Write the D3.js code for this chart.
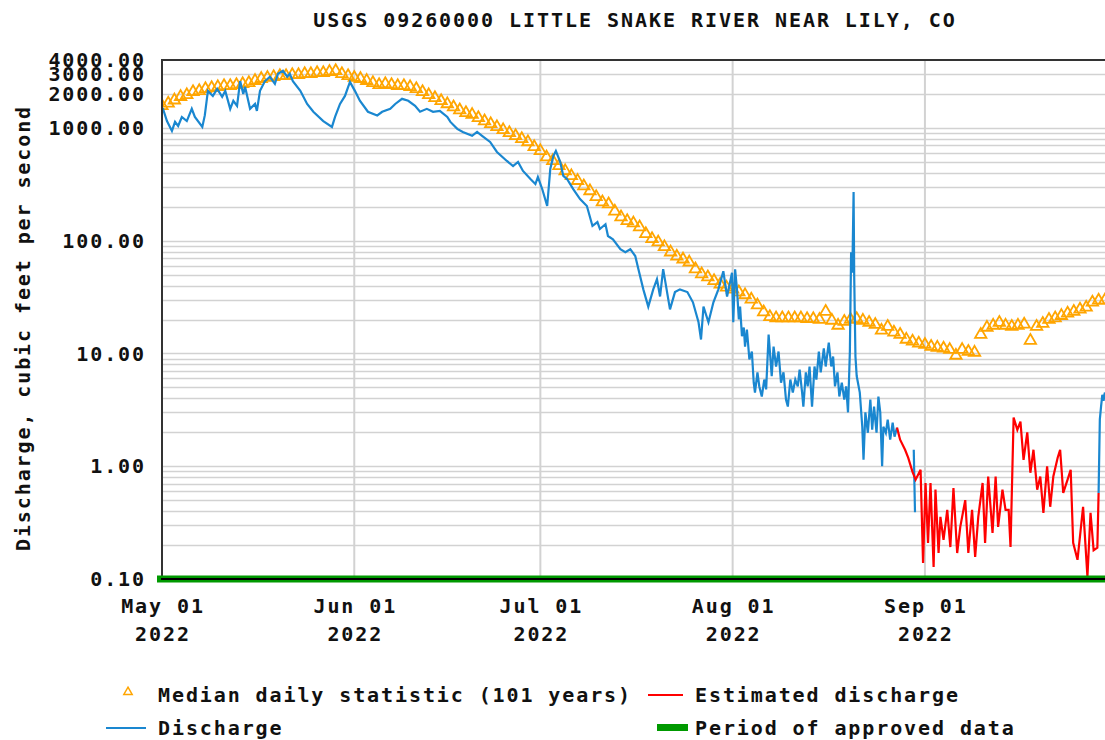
<!DOCTYPE html>
<html>
<head>
<meta charset="utf-8">
<script src="https://cdn.jsdelivr.net/npm/d3@7/dist/d3.min.js"></script>
<style>
  body { margin: 0; background: #fff; }
  svg text {
    font-family: "DejaVu Sans Mono", "Liberation Mono", monospace;
    font-weight: bold;
    font-size: 20px;
    letter-spacing: 1.9px;
    fill: #111;
  }
  svg text.title { letter-spacing: 1.95px; }
</style>
</head>
<body>
<svg id="chart"></svg>
<script>
// start of the record, all times below are days after this
var startDate = Date.UTC(2022, 4, 1);
var endDate = Date.UTC(2022, 9, 1);

// median daily statistic, one value per day from May 01
var medianQ = [
  1570, 1650, 1760, 1890, 1960, 2090, 2130, 2220, 2270, 2310,
  2360, 2360, 2410, 2460, 2510, 2620, 2730, 2790, 2840, 2900,
  2900, 2960, 2960, 3020, 3020, 3080, 3080, 3150, 3210, 3020,
  2900, 2790, 2730, 2620, 2510, 2410, 2460, 2410, 2360, 2360,
  2310, 2220, 2090, 1960, 1850, 1740, 1630, 1530, 1440, 1360,
  1310, 1230, 1150, 1085, 1020, 960, 905, 850, 800, 750,
  680, 625, 550, 510, 460, 415, 375, 340, 305, 276,
  245, 220, 211, 182, 162, 150, 143, 132, 115, 104,
  97, 88, 79, 72.5, 68.5, 64.4, 56, 50.5, 47.5, 44,
  41, 38.6, 37, 35, 33, 30.2, 26.8, 23.3, 21.1, 20.6,
  20.6, 20.6, 20.6, 20.6, 20.3, 20.3, 20, 23.5, 19.6, 17.7,
  19.2, 20, 20.3, 19.6, 18.8, 18, 16, 17.3, 15.4, 14.7,
  13.3, 12.8, 12.3, 12, 11.5, 11.3, 11.1, 10.8, 9.6, 10.8,
  10.4, 10.2, 14.7, 17, 17.7, 18.8, 17.7, 17.3, 17.7, 18.1,
  13, 17.3, 18.4, 20, 20.6, 21.6, 22.7, 23.5, 24.6, 25.6,
  28.4, 29.6, 29.6
];

// discharge (provisional)
var dischargeT = [
  0, 0.16, 0.8, 1.6, 2.1, 2.6, 3.2, 4.0, 4.8, 5.3, 6.5, 6.9, 7.4, 8.2, 8.9, 9.7,
  10.2, 11.0, 11.5, 12.1, 12.6, 13.1, 13.4, 14.2, 15.0, 15.3, 15.8, 16.6, 17.4, 18.2,
  18.7, 19.5, 20.2, 20.6, 21.1, 22.3, 23.4, 24.4, 26.0, 27.4, 27.9, 28.7, 29.5, 30.3,
  31.1, 31.9, 33.2, 34.7, 35.5, 36.8, 37.6, 38.7, 39.7, 40.8, 41.6, 42.7, 43.7, 44.8,
  46.0, 46.5, 47.6, 48.5, 50.0, 50.8, 51.6, 52.9, 54.0, 55.6, 56.6, 57.4, 58.2, 59.4,
  60.2, 60.6, 61.3, 62.1, 62.6, 63.1, 63.5, 64.2, 64.7, 65.3, 66.3, 67.4, 68.5, 69.4,
  70.2, 70.6, 71.5, 71.9, 72.7, 73.9, 74.7, 75.5, 76.3, 76.8, 77.6, 78.4, 79.2, 79.8,
  80.3, 80.8, 81.9, 82.7, 83.5, 84.7, 85.6, 86.5, 86.9, 87.3, 88.1, 88.9, 89.7, 90.5,
  91.1, 91.9, 92.1, 92.4,
  92.7, 93.0, 93.2, 93.5, 93.8, 94.0, 94.3, 94.7, 95.1, 95.4,
  95.6, 96.0, 96.3, 96.7, 97.1, 97.4, 97.8, 98.1, 98.3, 98.6,
  99.0, 99.4, 99.8, 100.2, 100.6, 100.9, 101.3, 101.7, 102.1, 102.5,
  102.8, 103.2, 103.4, 103.8, 104.1, 104.4, 104.8, 105.2, 105.5, 105.9,
  106.2, 106.7, 107.0, 107.5, 107.9, 108.2, 108.5, 108.9, 109.2, 109.6,
  110.0, 110.3, 110.6, 110.9, 111.1, 111.3, 111.5, 111.6, 111.8, 112.0,
  112.5, 112.9, 113.1, 113.4, 113.8, 114.2, 114.5, 114.8, 115.2, 115.5,
  115.8, 116.1, 116.3, 116.7, 117.0, 117.4, 117.8, 118.1, 118.5
];
var dischargeQ = [
  1500, 1475, 1150, 940, 1130, 1040, 1250, 1150, 1475, 1250, 1020, 1290, 2130, 1920, 2220, 1890,
  2130, 1475, 1740, 1570, 2600, 2000, 2310, 1475, 1630, 1415, 2130, 2600, 2840, 2460,
  3020, 3210, 2840, 3020, 2600, 2130, 1630, 1390, 1150, 1020, 1250, 1630, 1920, 2560,
  2130, 1740, 1390, 1290, 1390, 1475, 1630, 1810, 1740, 1570, 1390, 1475, 1390, 1415,
  1250, 1130, 980, 920, 850, 920, 850, 750, 612, 509, 459, 499, 415, 352,
  318, 367, 287, 203, 432, 564, 625, 499, 375, 352, 287, 234, 203, 135,
  146, 127, 140, 110, 103, 84, 79, 84, 73, 56, 37, 26, 37, 45.5,
  32, 56, 24.6, 35, 37, 35, 28.4, 18.9, 13.3, 26, 18.9, 28.4, 37, 53.6,
  32, 52, 18.9, 55.8,
  37, 20, 26, 14.2, 17, 11.5, 16.3, 8.85, 10.4, 5.5,
  4.5, 6.8, 5.1, 4.15, 5.87, 4.8, 14.7, 8.85, 6.3, 11.5,
  7.66, 10.4, 5.5, 6.8, 3.9, 3.38, 5.87, 4.5, 5.87, 5.1,
  7.2, 4.5, 3.38, 6.8, 5.1, 7.66, 3.38, 7.66, 5.87, 10.4,
  6.8, 11.1, 7.66, 12.5, 7.66, 9.4, 5.1, 6.8, 4.15, 5.5,
  3.9, 5.1, 3.0, 10.4, 79, 52, 270, 48, 9.4, 6.3,
  4.5, 2.24, 1.14, 3.0, 1.98, 3.9, 2.11, 3.38, 1.98, 4.15,
  3.0, 1.0, 2.24, 1.98, 2.59, 1.72, 2.43, 1.83, 2.2
];

// two short provisional pieces inside the estimated stretch
var dischargeT2 = [121.2, 121.4];
var dischargeQ2 = [1.4, 0.39];
var dischargeT3 = [151.0, 151.2, 151.4, 151.6, 151.8, 152.0, 152.2];
var dischargeQ3 = [0.58, 2.6, 3.4, 4.3, 3.8, 4.5, 4.0];

// estimated discharge
var estimatedT = [
  118.5, 119.0, 119.8, 120.3, 121.0, 121.5, 122.3, 122.7, 123.1, 123.5, 123.9, 124.4, 124.7, 125.2,
  125.5, 126.0, 126.6, 127.1, 127.6, 128.2, 128.7, 129.5, 130.0, 130.6, 131.1, 131.6, 132.3, 132.7,
  133.2, 133.9, 134.4, 134.8, 135.5, 136.0, 136.5, 136.8, 137.1, 137.3, 137.9, 138.4, 138.9, 139.5,
  140.0, 140.5, 141.1, 141.6, 142.1, 142.7, 143.2, 143.7, 144.4, 144.8, 145.3, 146.0, 146.5, 146.9,
  147.6, 148.1, 148.5, 149.2, 149.7, 150.2, 150.8, 151.0
];
var estimatedQ = [
  2.2, 1.72, 1.4, 1.19, 0.89, 0.76, 0.93, 0.139, 0.71, 0.209, 0.71, 0.128, 0.62, 0.17,
  0.356, 0.222, 0.41, 0.192, 0.64, 0.17, 0.29, 0.5, 0.17, 0.41, 0.157, 0.356, 0.71, 0.209,
  0.81, 0.256, 0.81, 0.29, 0.62, 0.41, 0.41, 0.192, 0.93, 2.7, 2.1, 2.49, 1.14, 2.0,
  0.875, 1.4, 0.62, 0.81, 0.386, 1.0, 0.437, 0.81, 1.19, 1.4, 0.58, 0.76, 0.93, 0.209,
  0.148, 0.27, 0.437, 0.105, 0.386, 0.18, 0.19, 0.58
];

var yTicks = [0.1, 1, 10, 100, 1000, 2000, 3000, 4000];

var width = 1105, height = 740;
var plotLeft = 162, plotTop = 60, plotBottom = 579, plotRight = 1111;

var svg = d3.select('#chart').attr('width', width).attr('height', height);

var x = d3.scaleUtc().domain([startDate, endDate]).range([plotLeft, plotRight]);
var y = d3.scaleLog().domain([0.1, 4000]).range([plotBottom, plotTop]);

function dayToDate(t) { return new Date(startDate + t * 864e5); }

svg.append('clipPath').attr('id', 'plotclip')
  .append('rect').attr('x', plotLeft).attr('y', plotTop - 2)
  .attr('width', plotRight - plotLeft).attr('height', plotBottom - plotTop + 2);

// horizontal grid, every 1..9 in each decade
var gridVals = [];
for (var e = -1; e <= 3; e++) {
  for (var k = 1; k <= 9; k++) {
    var v = k * Math.pow(10, e);
    if (v > 0.1 && v < 4000) gridVals.push(v);
  }
}
var grid = svg.append('g');
grid.selectAll('line.h').data(gridVals).enter().append('line')
  .attr('x1', plotLeft).attr('x2', width)
  .attr('y1', d => Math.round(y(d)) + 0.5).attr('y2', d => Math.round(y(d)) + 0.5)
  .attr('stroke', '#d2d2d2').attr('stroke-width', 1.5);

var months = d3.utcMonth.range(new Date(startDate), new Date(endDate));
grid.selectAll('line.v').data(months.slice(1)).enter().append('line')
  .attr('x1', d => x(d)).attr('x2', d => x(d))
  .attr('y1', plotTop).attr('y2', plotBottom)
  .attr('stroke', '#d2d2d2').attr('stroke-width', 2);

var plot = svg.append('g').attr('clip-path', 'url(#plotclip)');

// median triangles
var tri = d3.symbol().type(d3.symbolTriangle).size(56);
plot.selectAll('path.med').data(medianQ).enter().append('path')
  .attr('d', tri)
  .attr('transform', (d, i) => 'translate(' + x(dayToDate(i)) + ',' + y(d) + ')')
  .attr('fill', 'none')
  .attr('stroke', '#ffa500')
  .attr('stroke-width', 1.8);

var line = d3.line()
  .x(d => x(dayToDate(d[0])))
  .y(d => y(d[1]));

function pairs(t, q) { return t.map((d, i) => [d, q[i]]); }

[[dischargeT, dischargeQ], [dischargeT2, dischargeQ2], [dischargeT3, dischargeQ3]].forEach(function (s) {
  plot.append('path')
    .datum(pairs(s[0], s[1]))
    .attr('fill', 'none')
    .attr('stroke', '#1a87d0')
    .attr('stroke-width', 2.2)
    .attr('d', line);
});

plot.append('path')
  .datum(pairs(estimatedT, estimatedQ))
  .attr('fill', 'none')
  .attr('stroke', '#ff0000')
  .attr('stroke-width', 2.2)
  .attr('d', line);

// frame
svg.append('line').attr('x1', plotLeft).attr('x2', plotLeft).attr('y1', plotTop - 1).attr('y2', plotBottom)
  .attr('stroke', '#333').attr('stroke-width', 2);
svg.append('line').attr('x1', plotLeft - 1).attr('x2', width).attr('y1', plotTop).attr('y2', plotTop)
  .attr('stroke', '#333').attr('stroke-width', 2);

// period of approved data band along the bottom
svg.append('rect').attr('x', plotLeft - 5).attr('y', plotBottom - 3.5).attr('width', width - plotLeft + 5).attr('height', 7)
  .attr('fill', '#009900');
svg.append('line').attr('x1', plotLeft - 1).attr('x2', width).attr('y1', plotBottom).attr('y2', plotBottom)
  .attr('stroke', '#000').attr('stroke-width', 2);

// y labels
svg.selectAll('text.ytick').data(yTicks).enter().append('text')
  .attr('x', 146).attr('y', d => y(d)).attr('dy', '0.36em')
  .attr('text-anchor', 'end')
  .text(d => d3.format('.2f')(d));

// x labels
var xl = svg.selectAll('g.xtick').data(months).enter().append('g');
xl.append('text').attr('x', d => x(d) + 1).attr('y', 613).attr('text-anchor', 'middle')
  .text(d => d3.utcFormat('%b %d')(d));
xl.append('text').attr('x', d => x(d) + 1).attr('y', 641).attr('text-anchor', 'middle')
  .text(d => d3.utcFormat('%Y')(d));

// title
svg.append('text').attr('class', 'title').attr('x', 635).attr('y', 27).attr('text-anchor', 'middle')
  .text('USGS 09260000 LITTLE SNAKE RIVER NEAR LILY, CO');

// y axis label
svg.append('text')
  .attr('transform', 'translate(30,' + 328 + ') rotate(-90)')
  .attr('text-anchor', 'middle')
  .text('Discharge, cubic feet per second');

// legend
var lg = svg.append('g');
lg.append('path').attr('d', d3.symbol().type(d3.symbolTriangle).size(30))
  .attr('transform', 'translate(128,692)')
  .attr('fill', 'none').attr('stroke', '#ffa500').attr('stroke-width', 1.5);
lg.append('text').attr('x', 158).attr('y', 702).text('Median daily statistic (101 years)');
lg.append('line').attr('x1', 648).attr('x2', 683).attr('y1', 695).attr('y2', 695)
  .attr('stroke', '#ff0000').attr('stroke-width', 2);
lg.append('text').attr('x', 695).attr('y', 702).text('Estimated discharge');
lg.append('line').attr('x1', 106).attr('x2', 146).attr('y1', 728).attr('y2', 728)
  .attr('stroke', '#1a87d0').attr('stroke-width', 2);
lg.append('text').attr('x', 158).attr('y', 735).text('Discharge');
lg.append('rect').attr('x', 657).attr('y', 724).attr('width', 31).attr('height', 7)
  .attr('fill', '#009900');
lg.append('text').attr('x', 695).attr('y', 735).text('Period of approved data');
</script>
</body>
</html>
